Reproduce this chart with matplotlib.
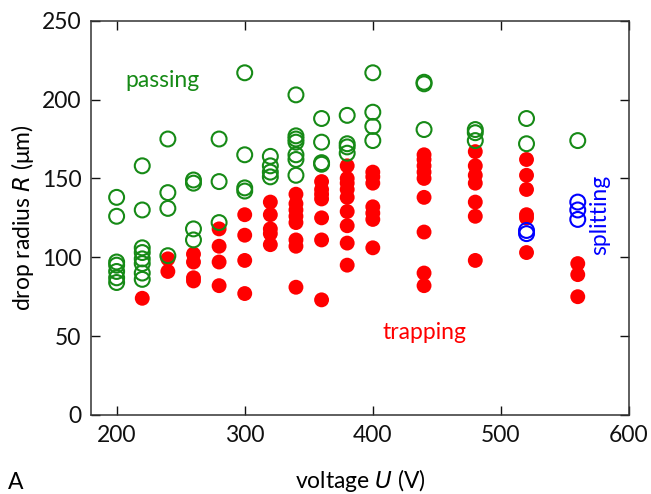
import matplotlib.pyplot as plt

# drops that pass the electrode
passing_u = [200, 200, 200, 200, 200, 200, 200,
             220, 220, 220, 220, 220, 220, 220, 220,
             240, 240, 240, 240,
             260, 260, 260, 260,
             280, 280, 280,
             300, 300, 300, 300,
             320, 320, 320, 320,
             340, 340, 340, 340, 340, 340, 340,
             360, 360, 360, 360,
             380, 380, 380, 380,
             400, 400, 400, 400,
             440, 440, 440,
             480, 480, 480,
             520, 520,
             560]
passing_r = [138, 126, 97, 95, 91, 87, 84,
             158, 130, 106, 103, 99, 96, 90, 86,
             175, 141, 131, 101,
             149, 147, 118, 111,
             175, 148, 122,
             217, 165, 144, 142,
             164, 158, 154, 151,
             203, 177, 175, 173, 165, 162, 152,
             188, 173, 160, 159,
             190, 172, 170, 166,
             217, 192, 183, 174,
             211, 210, 181,
             181, 179, 174,
             188, 172,
             174]

# drops that get trapped
trapping_u = [220,
              240, 240,
              260, 260, 260, 260,
              280, 280, 280, 280,
              300, 300, 300, 300,
              320, 320, 320, 320, 320,
              340, 340, 340, 340, 340, 340, 340, 340,
              360, 360, 360, 360, 360, 360, 360,
              380, 380, 380, 380, 380, 380, 380, 380, 380,
              400, 400, 400, 400, 400, 400, 400,
              440, 440, 440, 440, 440, 440, 440, 440, 440,
              480, 480, 480, 480, 480, 480, 480,
              520, 520, 520, 520, 520, 520,
              560, 560, 560]
trapping_r = [74,
              99, 91,
              102, 97, 87, 85,
              118, 107, 97, 82,
              127, 114, 98, 77,
              135, 127, 118, 115, 108,
              140, 134, 130, 126, 122, 111, 107, 81,
              148, 143, 140, 137, 125, 111, 73,
              158, 150, 147, 143, 138, 129, 120, 109, 95,
              154, 151, 147, 132, 128, 124, 106,
              165, 162, 158, 154, 150, 138, 116, 90, 82,
              167, 158, 152, 147, 135, 126, 98,
              162, 152, 143, 127, 125, 103,
              96, 89, 75]

# drops that split
splitting_u = [520, 520, 560, 560, 560]
splitting_r = [117, 115, 135, 130, 124]

plt.rcParams['font.family'] = ['Lato', 'DejaVu Sans']
fs = 16.5

fig = plt.figure(figsize=(6.51, 4.94), dpi=100)
ax = fig.add_axes([0.1398, 0.160, 0.8264, 0.798])

ax.scatter(passing_u, passing_r, s=115, facecolors='none',
           edgecolors='#168a16', linewidths=1.5, zorder=3)
ax.scatter(trapping_u, trapping_r, s=115, color='#ff0000',
           edgecolors='none', zorder=2)
ax.scatter(splitting_u, splitting_r, s=115, facecolors='none',
           edgecolors='#0000ff', linewidths=1.5, zorder=3)

ax.text(236, 212, 'passing', color='#168a16', fontsize=fs,
        ha='center', va='center')
ax.text(440, 52, 'trapping', color='#ff0000', fontsize=fs,
        ha='center', va='center')
ax.text(577, 127, 'splitting', color='#0000ff', fontsize=fs,
        ha='center', va='center', rotation=90)

ax.set_xlim(180, 600)
ax.set_ylim(0, 250)
ax.set_xticks([200, 300, 400, 500, 600])
ax.set_yticks([0, 50, 100, 150, 200, 250])
ax.tick_params(direction='in', length=6.5, width=1, labelsize=fs,
               top=True, right=True, pad=7, colors='#111111')
for sp in ax.spines.values():
    sp.set_linewidth(1.1)
    sp.set_color('#333333')

ax.set_xlabel('voltage $\\it{U}$ (V)', fontsize=fs, labelpad=15)
ax.set_ylabel('drop radius $\\it{R}$ (μm)', fontsize=fs, labelpad=4)

fig.text(0.012, 0.002, 'A', fontsize=fs, ha='left', va='bottom')

fig.savefig('out.png', dpi=100)
